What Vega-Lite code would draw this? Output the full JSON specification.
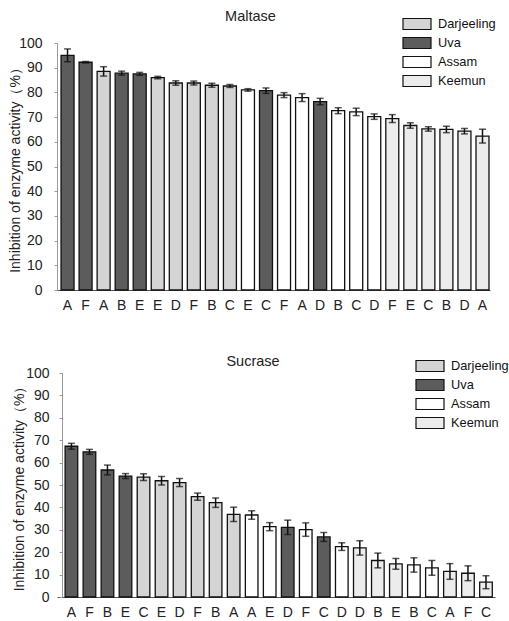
{
  "$schema": "https://vega.github.io/schema/vega-lite/v6.json",
  "padding": {"left": 8, "top": 8, "right": 0, "bottom": 0},
  "background": "white",
  "config": {
    "font": "Liberation Sans",
    "view": {"stroke": null},
    "axisY": {"domainColor": "#999", "tickColor": "#999", "tickSize": 3, "labelFontSize": 14, "labelColor": "#222", "titleFontSize": 14, "titleFontWeight": "normal", "titleColor": "#222", "grid": false, "labelOverlap": false},
    "axisX": {"title": null, "labelAngle": 0, "ticks": false, "domainColor": "#555", "domainWidth": 1.2, "labelFontSize": 14, "labelColor": "#222", "labelExpr": "substring(datum.label,0,1)"},
    "legend": {"title": null, "labelFontSize": 12.8, "labelColor": "#111", "symbolType": "M-1.4,-0.55H1.4V0.55H-1.4Z", "symbolSize": 400, "symbolStrokeColor": "#111", "symbolStrokeWidth": 1.2, "rowPadding": -4, "labelOffset": 10, "padding": 0}
  },
  "datasets": {
    "maltase": [
      {"k": "A1", "t": "Uva", "v": 95.0, "e": 2.6},
      {"k": "F2", "t": "Uva", "v": 92.2, "e": 0.3},
      {"k": "A3", "t": "Darjeeling", "v": 88.5, "e": 1.9},
      {"k": "B4", "t": "Uva", "v": 87.8, "e": 0.8},
      {"k": "E5", "t": "Uva", "v": 87.5, "e": 0.6},
      {"k": "E6", "t": "Darjeeling", "v": 86.0, "e": 0.5},
      {"k": "D7", "t": "Darjeeling", "v": 83.8, "e": 0.9},
      {"k": "F8", "t": "Darjeeling", "v": 83.8, "e": 0.8},
      {"k": "B9", "t": "Darjeeling", "v": 82.9, "e": 0.8},
      {"k": "C10", "t": "Darjeeling", "v": 82.6, "e": 0.6},
      {"k": "E11", "t": "Assam", "v": 81.0, "e": 0.5},
      {"k": "C12", "t": "Uva", "v": 80.7, "e": 1.1},
      {"k": "F13", "t": "Assam", "v": 78.9, "e": 1.0},
      {"k": "A14", "t": "Assam", "v": 77.9, "e": 1.6},
      {"k": "D15", "t": "Uva", "v": 76.3, "e": 1.3},
      {"k": "B16", "t": "Assam", "v": 72.6, "e": 1.2},
      {"k": "C17", "t": "Assam", "v": 72.1, "e": 1.5},
      {"k": "D18", "t": "Assam", "v": 70.2, "e": 1.1},
      {"k": "F19", "t": "Keemun", "v": 69.4, "e": 1.6},
      {"k": "E20", "t": "Keemun", "v": 66.6, "e": 1.1},
      {"k": "C21", "t": "Keemun", "v": 65.2, "e": 0.9},
      {"k": "B22", "t": "Keemun", "v": 65.0, "e": 1.3},
      {"k": "D23", "t": "Keemun", "v": 64.3, "e": 1.1},
      {"k": "A24", "t": "Keemun", "v": 62.3, "e": 2.8}
    ],
    "sucrase": [
      {"k": "A1", "t": "Uva", "v": 67.3, "e": 1.3},
      {"k": "F2", "t": "Uva", "v": 64.8, "e": 1.1},
      {"k": "B3", "t": "Uva", "v": 56.7, "e": 2.2},
      {"k": "E4", "t": "Uva", "v": 54.0, "e": 1.1},
      {"k": "C5", "t": "Darjeeling", "v": 53.5, "e": 1.5},
      {"k": "E6", "t": "Darjeeling", "v": 51.9, "e": 1.9},
      {"k": "D7", "t": "Darjeeling", "v": 51.1, "e": 1.8},
      {"k": "F8", "t": "Darjeeling", "v": 44.8, "e": 1.6},
      {"k": "B9", "t": "Darjeeling", "v": 42.1, "e": 2.1},
      {"k": "A10", "t": "Darjeeling", "v": 36.9, "e": 3.2},
      {"k": "A11", "t": "Assam", "v": 36.6, "e": 1.9},
      {"k": "E12", "t": "Assam", "v": 31.4, "e": 1.8},
      {"k": "D13", "t": "Uva", "v": 31.1, "e": 3.2},
      {"k": "F14", "t": "Assam", "v": 30.1, "e": 3.0},
      {"k": "C15", "t": "Uva", "v": 26.8, "e": 2.0},
      {"k": "D16", "t": "Assam", "v": 22.5, "e": 1.7},
      {"k": "D17", "t": "Keemun", "v": 21.9, "e": 3.2},
      {"k": "B18", "t": "Keemun", "v": 16.3, "e": 3.3},
      {"k": "E19", "t": "Keemun", "v": 14.8, "e": 2.4},
      {"k": "B20", "t": "Assam", "v": 14.3, "e": 3.2},
      {"k": "C21", "t": "Assam", "v": 13.0, "e": 3.3},
      {"k": "A22", "t": "Keemun", "v": 11.4, "e": 3.5},
      {"k": "F23", "t": "Keemun", "v": 10.6, "e": 3.3},
      {"k": "C24", "t": "Keemun", "v": 6.6, "e": 2.9}
    ]
  },
  "vconcat": [
    {
      "width": 433,
      "height": 247,
      "title": {"text": "Maltase", "frame": "group", "fontSize": 14.5, "fontWeight": "normal", "color": "#222", "dx": -23, "offset": -11},
      "data": {"name": "maltase"},
      "layer": [
        {
          "mark": {"type": "bar", "stroke": "#111", "strokeWidth": 1.3},
          "encoding": {
            "x": {"field": "k", "type": "nominal", "sort": null, "scale": {"paddingInner": 0.28, "paddingOuter": 0.14, "align": 0.8}, "axis": {"labelPadding": 8}},
            "y": {"field": "v", "type": "quantitative", "scale": {"domain": [0, 100]}, "title": "Inhibition of enzyme activity（%）", "axis": {"values": [0,10,20,30,40,50,60,70,80,90,100], "labelPadding": 12, "titlePadding": -4}},
            "fill": {"field": "t", "type": "nominal", "scale": {"domain": ["Darjeeling", "Uva", "Assam", "Keemun"], "range": ["#d4d4d4", "#5c5c5c", "#ffffff", "#ececec"]}, "legend": {"orient": "none", "legendX": 349, "legendY": -30}}
          }
        },
        {
          "mark": {"type": "errorbar", "ticks": {"size": 7, "thickness": 1.5, "color": "#111"}, "rule": {"strokeWidth": 1.5, "color": "#111"}},
          "encoding": {
            "x": {"field": "k", "type": "nominal", "sort": null},
            "y": {"field": "v", "type": "quantitative", "title": "Inhibition of enzyme activity（%）", "axis": {"values": [0,10,20,30,40,50,60,70,80,90,100], "labelPadding": 12, "titlePadding": -4}},
            "yError": {"field": "e"}
          }
        }
      ]
    },
    {
      "width": 438,
      "height": 224,
      "title": {"text": "Sucrase", "frame": "group", "fontSize": 14.5, "fontWeight": "normal", "color": "#222", "dx": -23, "offset": -14},
      "data": {"name": "sucrase"},
      "layer": [
        {
          "mark": {"type": "bar", "stroke": "#111", "strokeWidth": 1.3},
          "encoding": {
            "x": {"field": "k", "type": "nominal", "sort": null, "scale": {"paddingInner": 0.3, "paddingOuter": 0.3, "align": 0.75}, "axis": {"labelPadding": 8}},
            "y": {"field": "v", "type": "quantitative", "scale": {"domain": [0, 100]}, "title": "Inhibition of enzyme activity（%）", "axis": {"values": [0,10,20,30,40,50,60,70,80,90,100], "offset": -5, "labelPadding": 10, "titlePadding": -1}},
            "fill": {"field": "t", "type": "nominal", "scale": {"domain": ["Darjeeling", "Uva", "Assam", "Keemun"], "range": ["#d4d4d4", "#5c5c5c", "#ffffff", "#ececec"]}, "legend": {"orient": "none", "legendX": 362, "legendY": -18}}
          }
        },
        {
          "mark": {"type": "errorbar", "ticks": {"size": 7, "thickness": 1.5, "color": "#111"}, "rule": {"strokeWidth": 1.5, "color": "#111"}},
          "encoding": {
            "x": {"field": "k", "type": "nominal", "sort": null},
            "y": {"field": "v", "type": "quantitative", "title": "Inhibition of enzyme activity（%）", "axis": {"values": [0,10,20,30,40,50,60,70,80,90,100], "offset": -5, "labelPadding": 10, "titlePadding": -1}},
            "yError": {"field": "e"}
          }
        }
      ]
    }
  ],
  "spacing": 83,
  "bounds": "flush",
  "resolve": {"scale": {"fill": "independent"}, "legend": {"fill": "independent"}}
}
